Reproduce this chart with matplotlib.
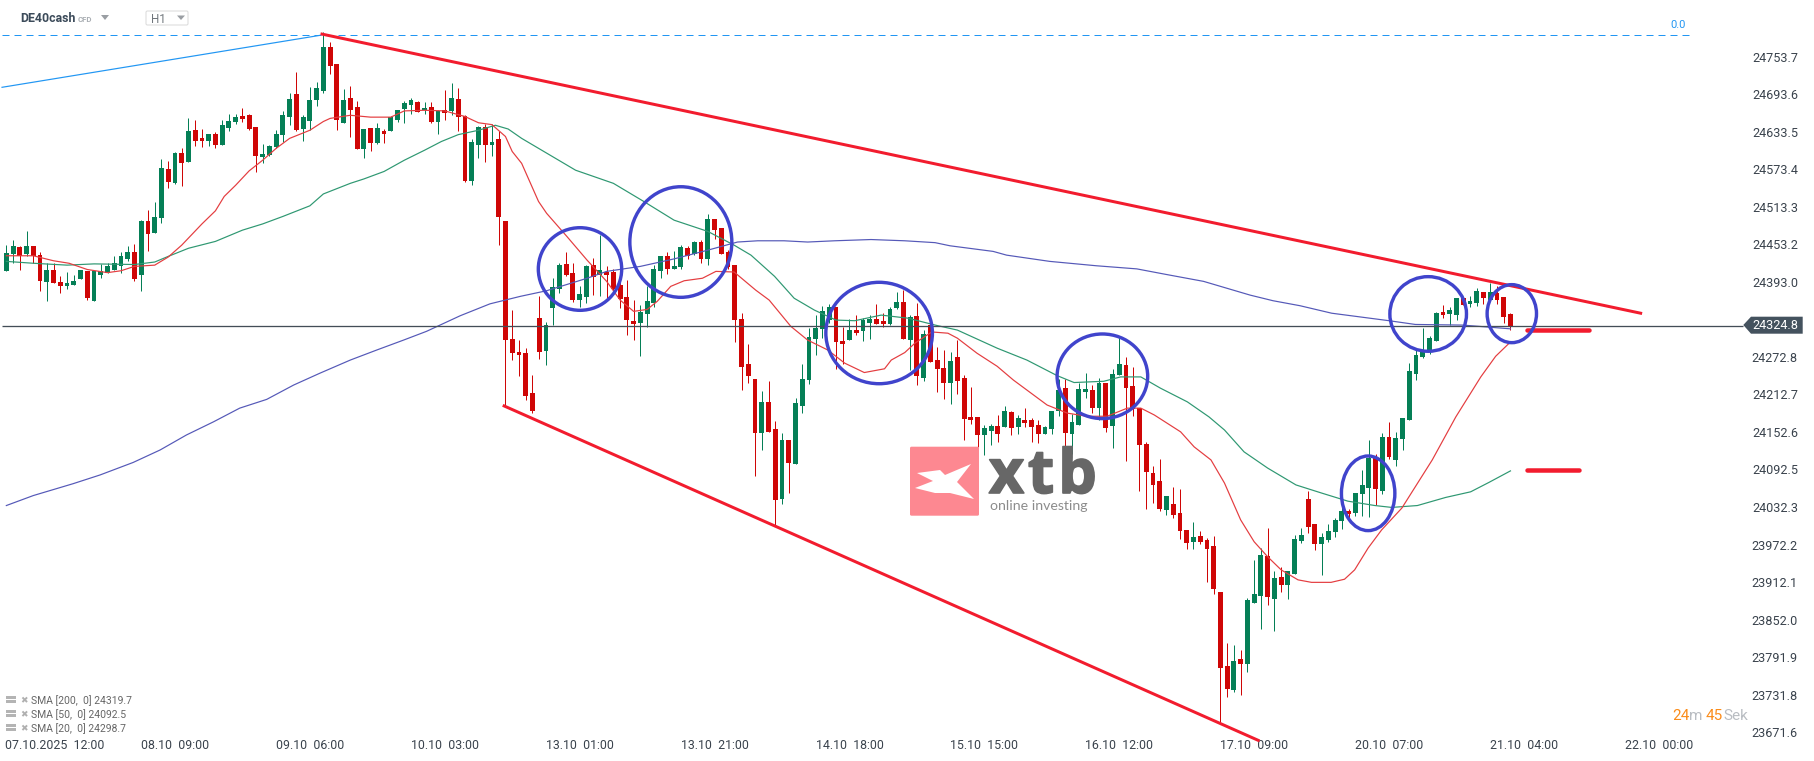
import matplotlib
matplotlib.use("Agg")
import matplotlib.pyplot as plt
import matplotlib.patheffects as pe
from matplotlib.patches import Ellipse, FancyBboxPatch, Polygon, Rectangle
from matplotlib.transforms import ScaledTranslation

plt.rcParams["font.family"] = ["Roboto", "DejaVu Sans"]

# hourly candles
highs = [
    24454, 24462, 24452, 24477, 24453, 24443, 24426, 24425, 24405, 24411,
    24406, 24415, 24413, 24412, 24424, 24425, 24436, 24443, 24453, 24456,
    24495, 24510, 24523, 24592, 24588, 24603, 24610, 24658, 24654, 24640,
    24632, 24635, 24654, 24664, 24664, 24674, 24664, 24643, 24616, 24614,
    24638, 24669, 24698, 24731, 24662, 24707, 24715, 24795, 24779, 24744,
    24704, 24709, 24685, 24640, 24642, 24650, 24640, 24661, 24670, 24685,
    24689, 24685, 24683, 24683, 24670, 24703, 24714, 24706, 24662, 24624,
    24645, 24648, 24648, 24637, 24493, 24350, 24302, 24289, 24246, 24373,
    24331, 24401, 24425, 24443, 24425, 24389, 24422, 24433, 24470, 24421,
    24416, 24398, 24398, 24366, 24358, 24389, 24422, 24437, 24443, 24445,
    24454, 24453, 24461, 24462, 24504, 24496, 24481, 24446, 24422, 24345,
    24296, 24240, 24220, 24236, 24172, 24153, 24142, 24209, 24264, 24321,
    24342, 24357, 24360, 24355, 24323, 24336, 24342, 24337, 24342, 24360,
    24345, 24355, 24379, 24382, 24342, 24361, 24318, 24339, 24291, 24286,
    24283, 24302, 24246, 24227, 24179, 24166, 24168, 24182, 24196, 24189,
    24182, 24193, 24177, 24174, 24164, 24189, 24240, 24240, 24184, 24233,
    24249, 24230, 24241, 24233, 24256, 24309, 24275, 24259, 24193, 24139,
    24100, 24112, 24052, 24067, 24064, 23998, 24011, 23996, 23985, 23988,
    23899, 23817, 23814, 23806, 23889, 23950, 23969, 24001, 23932, 23939,
    23932, 23990, 24001, 24060, 24008, 23993, 24008, 24017, 24035, 24032,
    24057, 24094, 24142, 24120, 24153, 24171, 24155, 24177, 24265, 24286,
    24321, 24309, 24347, 24358, 24355, 24369, 24369, 24373, 24385, 24379,
    24393, 24389, 24371, 24345,
]
lows = [
    24412, 24425, 24415, 24436, 24425, 24381, 24364, 24394, 24378, 24383,
    24390, 24399, 24366, 24365, 24402, 24410, 24414, 24410, 24429, 24397,
    24381, 24445, 24474, 24490, 24545, 24552, 24549, 24587, 24613, 24611,
    24613, 24610, 24614, 24637, 24648, 24651, 24638, 24571, 24585, 24597,
    24609, 24619, 24646, 24637, 24621, 24638, 24677, 24698, 24728, 24638,
    24650, 24627, 24608, 24594, 24605, 24616, 24618, 24637, 24651, 24650,
    24664, 24667, 24664, 24650, 24632, 24654, 24662, 24637, 24555, 24550,
    24594, 24587, 24597, 24454, 24197, 24270, 24245, 24206, 24185, 24272,
    24262, 24326, 24377, 24405, 24363, 24355, 24361, 24374, 24373, 24369,
    24376, 24353, 24310, 24302, 24277, 24323, 24355, 24401, 24408, 24416,
    24416, 24432, 24438, 24425, 24422, 24464, 24440, 24416, 24299, 24222,
    24233, 24084, 24126, 24155, 24006, 24040, 24057, 24104, 24185, 24232,
    24278, 24305, 24330, 24256, 24264, 24302, 24310, 24301, 24304, 24328,
    24323, 24326, 24352, 24304, 24254, 24230, 24236, 24267, 24219, 24208,
    24200, 24216, 24142, 24168, 24131, 24118, 24134, 24139, 24163, 24150,
    24152, 24163, 24139, 24137, 24152, 24152, 24181, 24059, 24120, 24166,
    24209, 24185, 24174, 24155, 24129, 24246, 24108, 24181, 24060, 24032,
    24041, 24028, 24022, 24017, 23984, 23968, 23968, 23976, 23915, 23896,
    23691, 23731, 23739, 23734, 23771, 23881, 23839, 23878, 23836, 23899,
    23887, 23927, 23977, 23993, 23966, 23926, 23979, 23987, 24000, 24017,
    24020, 24020, 24019, 24038, 24056, 24112, 24100, 24126, 24174, 24238,
    24273, 24280, 24301, 24337, 24326, 24334, 24358, 24355, 24357, 24360,
    24366, 24360, 24329, 24318,
]
opens = [
    24412, 24440, 24451, 24440, 24453, 24438, 24395, 24414, 24395, 24389,
    24390, 24400, 24413, 24365, 24406, 24410, 24415, 24421, 24432, 24443,
    24406, 24493, 24474, 24498, 24576, 24554, 24601, 24587, 24638, 24626,
    24621, 24632, 24614, 24642, 24651, 24661, 24662, 24643, 24595, 24598,
    24611, 24630, 24659, 24696, 24640, 24653, 24686, 24701, 24771, 24744,
    24650, 24690, 24675, 24608, 24642, 24618, 24637, 24637, 24654, 24672,
    24678, 24683, 24670, 24675, 24651, 24670, 24669, 24688, 24661, 24557,
    24614, 24643, 24614, 24624, 24493, 24304, 24283, 24281, 24217, 24337,
    24285, 24353, 24384, 24424, 24409, 24366, 24371, 24422, 24406, 24411,
    24411, 24390, 24371, 24333, 24329, 24344, 24361, 24413, 24437, 24416,
    24419, 24450, 24440, 24459, 24432, 24496, 24481, 24443, 24422, 24336,
    24264, 24240, 24153, 24203, 24160, 24048, 24142, 24104, 24197, 24238,
    24304, 24320, 24334, 24355, 24301, 24302, 24318, 24317, 24329, 24336,
    24333, 24328, 24353, 24363, 24302, 24341, 24241, 24326, 24270, 24257,
    24233, 24275, 24241, 24179, 24179, 24150, 24156, 24164, 24163, 24187,
    24163, 24174, 24174, 24166, 24152, 24160, 24189, 24225, 24152, 24166,
    24219, 24222, 24193, 24233, 24164, 24246, 24262, 24229, 24193, 24136,
    24089, 24076, 24030, 24040, 24025, 23998, 23979, 23988, 23982, 23972,
    23899, 23780, 23742, 23791, 23783, 23881, 23892, 23956, 23887, 23923,
    23910, 23927, 23980, 24048, 24008, 23976, 23982, 23995, 24012, 24028,
    24025, 24056, 24065, 24113, 24060, 24147, 24110, 24144, 24174, 24248,
    24275, 24283, 24301, 24347, 24344, 24342, 24369, 24360, 24361, 24379,
    24366, 24377, 24371, 24344,
]
closes = [
    24441, 24453, 24437, 24453, 24437, 24396, 24414, 24394, 24389, 24393,
    24397, 24414, 24370, 24412, 24412, 24420, 24425, 24437, 24443, 24400,
    24493, 24472, 24499, 24578, 24555, 24602, 24586, 24637, 24621, 24621,
    24632, 24614, 24646, 24653, 24659, 24656, 24640, 24597, 24600, 24613,
    24632, 24662, 24688, 24638, 24659, 24686, 24706, 24771, 24741, 24654,
    24686, 24670, 24608, 24640, 24618, 24642, 24632, 24659, 24670, 24682,
    24686, 24667, 24674, 24651, 24669, 24666, 24690, 24659, 24557, 24619,
    24643, 24614, 24619, 24499, 24302, 24281, 24278, 24213, 24189, 24283,
    24326, 24387, 24422, 24406, 24366, 24376, 24421, 24403, 24414, 24406,
    24384, 24368, 24334, 24328, 24347, 24365, 24416, 24437, 24416, 24421,
    24451, 24437, 24459, 24432, 24496, 24478, 24440, 24419, 24334, 24259,
    24245, 24153, 24203, 24155, 24046, 24142, 24105, 24201, 24240, 24307,
    24321, 24349, 24355, 24299, 24296, 24318, 24313, 24334, 24336, 24328,
    24328, 24352, 24363, 24304, 24339, 24245, 24312, 24267, 24256, 24233,
    24269, 24236, 24176, 24174, 24150, 24161, 24164, 24152, 24189, 24161,
    24177, 24169, 24163, 24152, 24163, 24189, 24222, 24153, 24171, 24224,
    24224, 24193, 24233, 24161, 24248, 24264, 24225, 24192, 24134, 24091,
    24070, 24032, 24052, 24022, 23996, 23977, 23987, 23979, 23968, 23904,
    23777, 23743, 23788, 23783, 23886, 23896, 23958, 23891, 23921, 23910,
    23932, 23984, 23990, 24003, 23976, 23987, 23996, 24014, 24028, 24024,
    24057, 24070, 24113, 24064, 24147, 24115, 24145, 24177, 24253, 24278,
    24286, 24305, 24345, 24342, 24350, 24369, 24358, 24365, 24381, 24369,
    24379, 24366, 24339, 24325,
]

# moving averages at the bends (bar number, price)
sma20_bars = [0, 4, 7, 9.3, 12, 15, 17, 19, 22, 24, 26, 29, 31, 32.3, 34, 36, 38, 40, 42, 45, 47, 48, 51, 54, 57, 59, 62, 65, 68, 70, 72, 74, 75, 76.4, 78.9, 80.1, 83.1, 86.1, 89, 91, 93, 95, 96.5, 98.5, 100.5, 103.2, 105.2, 107.9, 111.1, 113.1, 116.3, 118.8, 121.8, 124.3, 127.2, 130.2, 131.2, 133.2, 134.7, 137.2, 139.6, 141, 143.9, 146.9, 149.3, 152.3, 154.3, 157.3, 160.2, 163.2, 166.2, 168.2, 170.2, 174.1, 176.1, 178.6, 180.6, 183, 185, 187, 189, 191.5, 193.5, 196.4, 198.4, 199.9, 201.9, 203.9, 206.9, 211.4, 214.9, 218.6, 220.8, 223]
sma20_vals = [24437, 24437, 24429, 24425, 24415, 24410, 24413, 24420, 24422, 24435, 24454, 24488, 24509, 24532, 24550, 24573, 24590, 24609, 24625, 24638, 24652, 24657, 24662, 24659, 24659, 24669, 24670, 24669, 24660, 24650, 24647, 24628, 24604, 24585, 24524, 24505, 24468, 24430, 24396, 24366, 24348, 24351, 24364, 24388, 24397, 24401, 24412, 24411, 24382, 24366, 24324, 24302, 24286, 24265, 24250, 24256, 24270, 24282, 24297, 24315, 24313, 24305, 24281, 24260, 24238, 24214, 24198, 24185, 24180, 24180, 24193, 24193, 24182, 24155, 24131, 24110, 24073, 24014, 23979, 23955, 23934, 23918, 23914, 23914, 23919, 23934, 23969, 23998, 24033, 24110, 24179, 24243, 24276, 24299]
sma50_bars = [0, 4, 9, 13, 19, 22, 24, 27, 31, 35, 38, 41, 45, 47, 51, 53, 56, 59, 62, 64.5, 67, 70, 72.5, 74.4, 76.4, 84.4, 90, 94.5, 99, 104, 107.9, 110.4, 113.9, 116.8, 119.8, 123, 125.8, 129.7, 133.7, 137.7, 141, 146.9, 151.3, 155.8, 158.3, 162.7, 165.2, 168.2, 171.1, 175.1, 178.3, 180.6, 183.5, 187, 191.2, 195, 198.9, 202.9, 205.4, 209.2, 213.4, 217.1, 219.8, 223]
sma50_vals = [24428, 24425, 24422, 24424, 24423, 24427, 24436, 24449, 24460, 24478, 24488, 24500, 24517, 24536, 24553, 24560, 24572, 24590, 24606, 24620, 24631, 24638, 24646, 24640, 24625, 24574, 24553, 24524, 24494, 24476, 24454, 24438, 24404, 24369, 24350, 24334, 24333, 24342, 24337, 24326, 24318, 24289, 24270, 24245, 24234, 24236, 24243, 24243, 24225, 24203, 24179, 24158, 24123, 24097, 24070, 24057, 24044, 24037, 24034, 24037, 24050, 24059, 24074, 24092.5]
sma200_bars = [0, 4, 9.9, 13.9, 18.8, 22.8, 26.7, 30.7, 34.6, 38.6, 42.6, 46.5, 51, 54.9, 58.9, 62.3, 67.3, 71.7, 76.2, 80.1, 86.1, 89, 94, 99, 104, 108.4, 111.4, 115.3, 118.8, 122.8, 128.2, 133.2, 137.7, 139.9, 146.3, 148.3, 154.7, 161.6, 167.6, 172, 177.5, 184.4, 187.8, 191.8, 196.5, 205, 208.9, 215.9, 223]
sma200_vals = [24037, 24053, 24072, 24086, 24106, 24126, 24150, 24171, 24193, 24207, 24230, 24249, 24270, 24286, 24302, 24316, 24341, 24360, 24372, 24381, 24401, 24412, 24420, 24432, 24446, 24459, 24461, 24461, 24459, 24461, 24463, 24461, 24458, 24453, 24444, 24438, 24428, 24421, 24416, 24407, 24396, 24374, 24365, 24357, 24345, 24333, 24327, 24326, 24320]

# drawn on the chart by hand
upper_line_bars = [46.8, 242.3]
upper_line_vals = [24792, 24345]
lower_line_bars = [73.8, 185.6]
lower_line_vals = [24196.5, 23661]
fib_line_bars = [-0.64, 46.5]
fib_line_vals = [24706.8, 24790]
fib_level = 24790
last_price = 24324.8
circle_bars = [85.05, 100.0, 129.4, 162.5, 201.9, 210.8, 223.2]
circle_vals = [24415.8, 24459, 24313.3, 24244, 24056.6, 24343.8, 24344.3]
circle_widths = [12.36, 15.12, 15.8, 13.43, 7.92, 11.36, 7.32]
circle_heights = [132.3, 177.1, 162.4, 135.5, 119.5, 119.5, 92.9]
stub_vals = [24317.7, 24093.5]
stub_starts = [225.4, 225.4]
stub_ends = [234.7, 233.2]

price_ticks = [24753.7, 24693.6, 24633.5, 24573.4, 24513.3, 24453.2, 24393.0, 24272.8, 24212.7,
               24152.6, 24092.5, 24032.3, 23972.2, 23912.1, 23852.0, 23791.9, 23731.8, 23671.6]
time_ticks = [7.2, 25, 45, 65, 85, 105, 125, 145, 165, 185, 205, 225, 245]
time_labels = ["07.10.2025  12:00", "08.10  09:00", "09.10  06:00", "10.10  03:00", "13.10  01:00",
               "13.10  21:00", "14.10  18:00", "15.10  15:00", "16.10  12:00", "17.10  09:00",
               "20.10  07:00", "21.10  04:00", "22.10  00:00"]
legend_rows = ["SMA [200,  0] 24319.7", "SMA [50,  0] 24092.5", "SMA [20,  0] 24298.7"]

RED = "#cf0606"
GREEN = "#057f56"
LINE_RED = "#f21c2e"
CIRCLE = "#4044cc"
TEXT = "#3a434d"
PX = 0.72  # one pixel in points at dpi 100

fig = plt.figure(figsize=(18.15, 7.61), dpi=100)
ax = fig.add_axes([0, 0, 1, 1])
ax.set_xlim(-0.94, 268.15)
ax.set_ylim(23627.9, 24846.6)
for side in ax.spines.values():
    side.set_visible(False)

# price and time labels sit inside the plot area
ax.yaxis.tick_right()
ax.set_yticks(price_ticks)
ax.set_yticklabels([f"{v:.1f}" for v in price_ticks], ha="right", color=TEXT, fontsize=9.1)
ax.tick_params(axis="y", length=0, pad=-17 * PX)
ax.set_xticks(time_ticks)
ax.set_xticklabels(time_labels, color=TEXT, fontsize=8.9)
ax.tick_params(axis="x", length=0, pad=-22 * PX)
# labels sit a little above their level on the platform
nudge = ScaledTranslation(0, 1.4 / 100, fig.dpi_scale_trans)
for label in ax.get_yticklabels():
    label.set_transform(label.get_transform() + nudge)

# candles
bars = range(len(opens))
colors = [GREEN if c >= o else RED for o, c in zip(opens, closes)]
ax.vlines(bars, lows, highs, colors=colors, linewidth=1.0 * PX, zorder=3)
ax.bar(bars, [c - o for o, c in zip(opens, closes)], bottom=opens, width=0.72, color=colors, linewidth=0, zorder=3)

# moving averages
ax.plot(sma200_bars, sma200_vals, color="#5559b8", linewidth=1.2 * PX, zorder=4)
ax.plot(sma50_bars, sma50_vals, color="#2f9872", linewidth=1.2 * PX, zorder=4)
ax.plot(sma20_bars, sma20_vals, color="#e43d40", linewidth=1.2 * PX, zorder=4)

# levels and trend lines
ax.hlines(last_price, -0.64, 257.5, color="#434d57", linewidth=1.3 * PX, zorder=4)
ax.hlines(fib_level, -0.64, 249.6, color="#2196f3", linewidth=1.0 * PX, linestyles=(0, (7, 5)), zorder=2)
ax.plot(fib_line_bars, fib_line_vals, color="#2196f3", linewidth=1.2 * PX, zorder=2)
ax.plot(upper_line_bars, upper_line_vals, color=LINE_RED, linewidth=3 * PX, zorder=6)
ax.plot(lower_line_bars, lower_line_vals, color=LINE_RED, linewidth=3 * PX, zorder=6)
for val, start, end in zip(stub_vals, stub_starts, stub_ends):
    ax.plot([start, end], [val, val], color=LINE_RED, linewidth=4.5 * PX, solid_capstyle="round", zorder=6)
for b, v, w, h in zip(circle_bars, circle_vals, circle_widths, circle_heights):
    ax.add_patch(Ellipse((b, v), w, h, fill=False, edgecolor=CIRCLE, linewidth=3.4 * PX, zorder=7))

# everything below is screen furniture, so it goes on a pixel layer
ui = fig.add_axes([0, 0, 1, 1], zorder=5)
ui.set_xlim(0, 1815)
ui.set_ylim(761, 0)
ui.axis("off")

ui.text(20, 18.5, "DE40cash", fontsize=8.9, fontweight="bold", color="#3c4b5a", va="center")
ui.text(78, 19.5, "CFD", fontsize=5.6, fontweight="bold", color="#a9aeb3", va="center")
ui.add_patch(Polygon([(101, 15), (109, 15), (105, 20)], color="#9a9ea3", lw=0))
ui.add_patch(FancyBboxPatch((146, 11), 42, 14, boxstyle="round,pad=0,rounding_size=1.5", fc="white", ec="#dddddd", lw=0.8))
ui.text(151, 19.5, "H1", fontsize=8.4, color="#70767c", va="center")
ui.add_patch(Polygon([(177, 15.5), (185, 15.5), (181, 20)], color="#9a9ea3", lw=0))
ui.text(1678, 25, "0.0", fontsize=8, color="#2196f3", ha="center", va="center")

# last price tag
ui.add_patch(Polygon([(1743.3, 325), (1751, 316.7), (1802.7, 316.7), (1802.7, 333.7), (1751, 333.7)], color="#44525e", lw=0))
ui.text(1798, 325.2, "24324.8", fontsize=9.1, color="white", ha="right", va="center")

# xtb watermark
ui.add_patch(FancyBboxPatch((910, 446.7), 69, 69, boxstyle="round,pad=0,rounding_size=1.5", fc="#fd8891", ec="none", zorder=1))
ui.add_patch(Polygon([(917, 473), (940, 470), (945, 475), (971, 464), (957, 482), (974, 499), (950, 493), (935, 493), (915, 488), (933, 481)], color="white", lw=0, zorder=1.1))
for letter, cx in zip("xtb", [1006.5, 1041, 1077.5]):
    ui.text(cx, 493, letter, fontsize=44, fontweight="bold", family="Open Sans", color="#676767", ha="center", va="baseline", zorder=1,
            path_effects=[pe.withStroke(linewidth=1.2, foreground="#676767")])
ui.text(990.5, 505.5, "online investing", fontsize=10.2, family="Lato", color="#8c8c8c", va="center", zorder=1)

# indicator legend
for row, label in enumerate(legend_rows):
    y = 700.8 + 14 * row
    ui.add_patch(Rectangle((6, y - 5), 10, 7.5, color="#b4b4b4", lw=0))
    ui.add_patch(Rectangle((6, y - 2.2), 10, 1, color="white", lw=0))
    ui.text(23.5, y, "\u2716", fontsize=6.5, color="#b0b0b0", ha="center", va="center")
    ui.text(31, y, label, fontsize=7.5, color="#666666", va="center")

# countdown
ui.text(1672.5, 716, "24", fontsize=11, color="#fb8c1a", va="center")
ui.text(1689, 716, "m", fontsize=11, color="#b9bdc2", va="center")
ui.text(1706, 716, "45", fontsize=11, color="#fb8c1a", va="center")
ui.text(1723, 716, "Sek", fontsize=11, color="#b9bdc2", va="center")

fig.savefig("out.png", dpi=100)
